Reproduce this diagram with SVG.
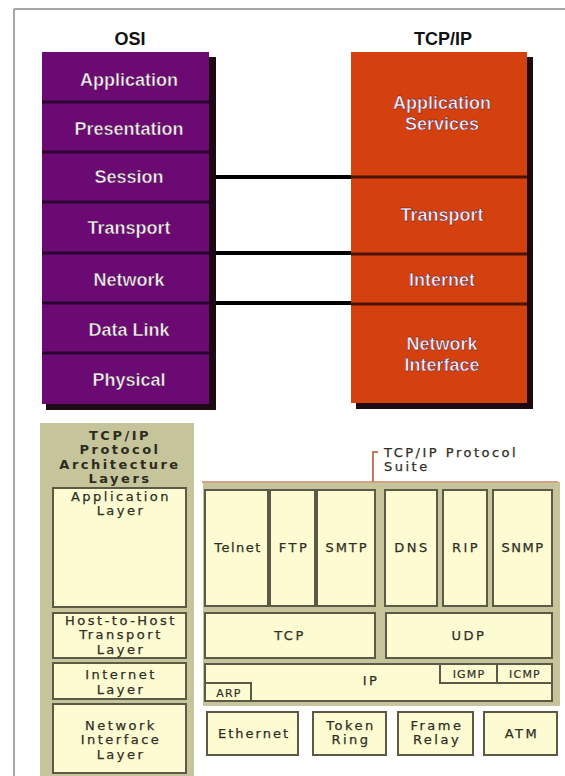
<svg xmlns="http://www.w3.org/2000/svg" width="565" height="776" viewBox="0 0 565 776">
<style>
.hdr{font-family:"Liberation Sans",Arial,sans-serif;font-size:18px;font-weight:bold;fill:#111;text-anchor:middle}
.lay{font-family:"Liberation Sans",Arial,sans-serif;font-size:18px;font-weight:bold;fill:#fbeefa;text-anchor:middle;stroke:#3a1030;stroke-width:0.4}
.osi{fill:#6c0a74}
.osisep{stroke:#2a0532;stroke-width:3}
.tcp{fill:#d4400e}
.tcpsep{stroke:#4a1200;stroke-width:3}
.shadow{fill:#1c0a14}
.panel{fill:#c6c49b}
.box{fill:#fdfbd2;stroke:#5c5a44;stroke-width:2}
.t{font-family:"DejaVu Sans",Verdana,sans-serif;font-size:13px;fill:#2e2e24;text-anchor:middle;letter-spacing:2.5px;stroke:#2e2e24;stroke-width:0.25}
.ts{font-family:"DejaVu Sans",Verdana,sans-serif;font-size:11px;fill:#2e2e24;text-anchor:middle;letter-spacing:1.2px;stroke:#2e2e24;stroke-width:0.2}
.tb{font-family:"DejaVu Sans",Verdana,sans-serif;font-size:13px;font-weight:bold;fill:#2c2c20;text-anchor:middle;letter-spacing:2.5px}
.conn{stroke:#000;stroke-width:4}
</style>

<g id="frame">
<line x1="14" y1="9" x2="565" y2="9" stroke="#a6a6a6" stroke-width="2"/>
<line x1="14" y1="9" x2="14" y2="776" stroke="#a6a6a6" stroke-width="2"/>
</g>

<g id="osi-stack">
<text class="hdr" x="130" y="45">OSI</text>
<rect class="shadow" x="46" y="57" width="170" height="353"/>
<rect class="osi" x="42" y="52" width="167" height="352"/>
<line class="osisep" x1="42" y1="102" x2="209" y2="102"/>
<line class="osisep" x1="42" y1="152" x2="209" y2="152"/>
<line class="osisep" x1="42" y1="202" x2="209" y2="202"/>
<line class="osisep" x1="42" y1="253" x2="209" y2="253"/>
<line class="osisep" x1="42" y1="303" x2="209" y2="303"/>
<line class="osisep" x1="42" y1="353" x2="209" y2="353"/>
</g>
<g id="osi-application"><text class="lay" x="129" y="86">Application</text></g>
<g id="osi-presentation"><text class="lay" x="129" y="135">Presentation</text></g>
<g id="osi-session"><text class="lay" x="129" y="183">Session</text></g>
<g id="osi-transport"><text class="lay" x="129" y="234">Transport</text></g>
<g id="osi-network"><text class="lay" x="129" y="286">Network</text></g>
<g id="osi-datalink"><text class="lay" x="129" y="336">Data Link</text></g>
<g id="osi-physical"><text class="lay" x="129" y="386">Physical</text></g>

<g id="tcpip-stack">
<text class="hdr" x="443" y="45">TCP/IP</text>
<rect class="shadow" x="356" y="57" width="177" height="352"/>
<rect class="tcp" x="351" y="52" width="176" height="351"/>
<line class="tcpsep" x1="351" y1="177" x2="527" y2="177"/>
<line class="tcpsep" x1="351" y1="254" x2="527" y2="254"/>
<line class="tcpsep" x1="351" y1="304" x2="527" y2="304"/>
</g>
<g id="tcp-appservices"><text class="lay" x="442" y="109">Application</text><text class="lay" x="442" y="130">Services</text></g>
<g id="tcp-transport"><text class="lay" x="442" y="221">Transport</text></g>
<g id="tcp-internet"><text class="lay" x="442" y="286">Internet</text></g>
<g id="tcp-netif"><text class="lay" x="442" y="350">Network</text><text class="lay" x="442" y="371">Interface</text></g>

<g id="connectors">
<line class="conn" x1="216" y1="177" x2="351" y2="177"/>
<line class="conn" x1="216" y1="253" x2="351" y2="253"/>
<line class="conn" x1="216" y1="303" x2="351" y2="303"/>
</g>

<g id="arch-layers">
<rect class="panel" x="40" y="423" width="154" height="353"/>
<text class="tb" x="120" y="440">TCP/IP</text>
<text class="tb" x="120" y="454">Protocol</text>
<text class="tb" x="120" y="469">Architecture</text>
<text class="tb" x="120" y="483">Layers</text>
</g>
<g id="app-layer"><rect class="box" x="53" y="488" width="133" height="119"/><text class="t" x="121" y="501">Application</text><text class="t" x="121" y="515">Layer</text></g>
<g id="host-layer"><rect class="box" x="53" y="613" width="133" height="45"/><text class="t" x="121" y="625">Host-to-Host</text><text class="t" x="121" y="639">Transport</text><text class="t" x="121" y="654">Layer</text></g>
<g id="internet-layer"><rect class="box" x="53" y="663" width="133" height="36"/><text class="t" x="121" y="679">Internet</text><text class="t" x="121" y="694">Layer</text></g>
<g id="netif-layer"><rect class="box" x="53" y="704" width="133" height="69"/><text class="t" x="121" y="730">Network</text><text class="t" x="121" y="744">Interface</text><text class="t" x="121" y="759">Layer</text></g>

<g id="suite">
<rect class="panel" x="203" y="482" width="357" height="224"/>
<line x1="202" y1="482" x2="558" y2="482" stroke="#d4a286" stroke-width="2"/>
<polyline points="378,452 373,452 373,482" fill="none" stroke="#c07a5a" stroke-width="2"/>
<text class="t" x="384" y="457" style="text-anchor:start">TCP/IP Protocol</text>
<text class="t" x="384" y="471" style="text-anchor:start">Suite</text>
</g>
<g id="telnet"><rect class="box" x="205" y="490" width="63" height="116"/><text class="t" x="238" y="552" style="letter-spacing:1.5px">Telnet</text></g>
<g id="ftp"><rect class="box" x="270" y="490" width="45" height="116"/><text class="t" x="294" y="552">FTP</text></g>
<g id="smtp"><rect class="box" x="317" y="490" width="58" height="116"/><text class="t" x="347" y="552" style="letter-spacing:2px">SMTP</text></g>
<g id="dns"><rect class="box" x="385" y="490" width="52" height="116"/><text class="t" x="412" y="552">DNS</text></g>
<g id="rip"><rect class="box" x="443" y="490" width="44" height="116"/><text class="t" x="466" y="552">RIP</text></g>
<g id="snmp"><rect class="box" x="493" y="490" width="59" height="116"/><text class="t" x="523" y="552" style="letter-spacing:1.5px">SNMP</text></g>
<g id="tcp"><rect class="box" x="205" y="613" width="170" height="45"/><text class="t" x="290" y="640">TCP</text></g>
<g id="udp"><rect class="box" x="386" y="613" width="166" height="45"/><text class="t" x="469" y="640">UDP</text></g>
<g id="ip"><rect class="box" x="205" y="664" width="347" height="37"/><text class="t" x="371" y="685">IP</text></g>
<g id="arp"><rect class="box" x="205" y="683" width="46" height="18"/><text class="ts" x="229" y="697">ARP</text></g>
<g id="igmp"><rect class="box" x="440" y="664" width="57" height="19"/><text class="ts" x="469" y="678">IGMP</text></g>
<g id="icmp"><rect class="box" x="497" y="664" width="55" height="19"/><text class="ts" x="525" y="678">ICMP</text></g>
<g id="ethernet"><rect class="box" x="207" y="712" width="91" height="43"/><text class="t" x="254" y="738" style="letter-spacing:2px">Ethernet</text></g>
<g id="tokenring"><rect class="box" x="313" y="712" width="73" height="43"/><text class="t" x="351" y="730">Token</text><text class="t" x="351" y="744">Ring</text></g>
<g id="framerelay"><rect class="box" x="398" y="712" width="75" height="43"/><text class="t" x="437" y="730">Frame</text><text class="t" x="437" y="744">Relay</text></g>
<g id="atm"><rect class="box" x="484" y="712" width="73" height="43"/><text class="t" x="522" y="738">ATM</text></g>
</svg>
